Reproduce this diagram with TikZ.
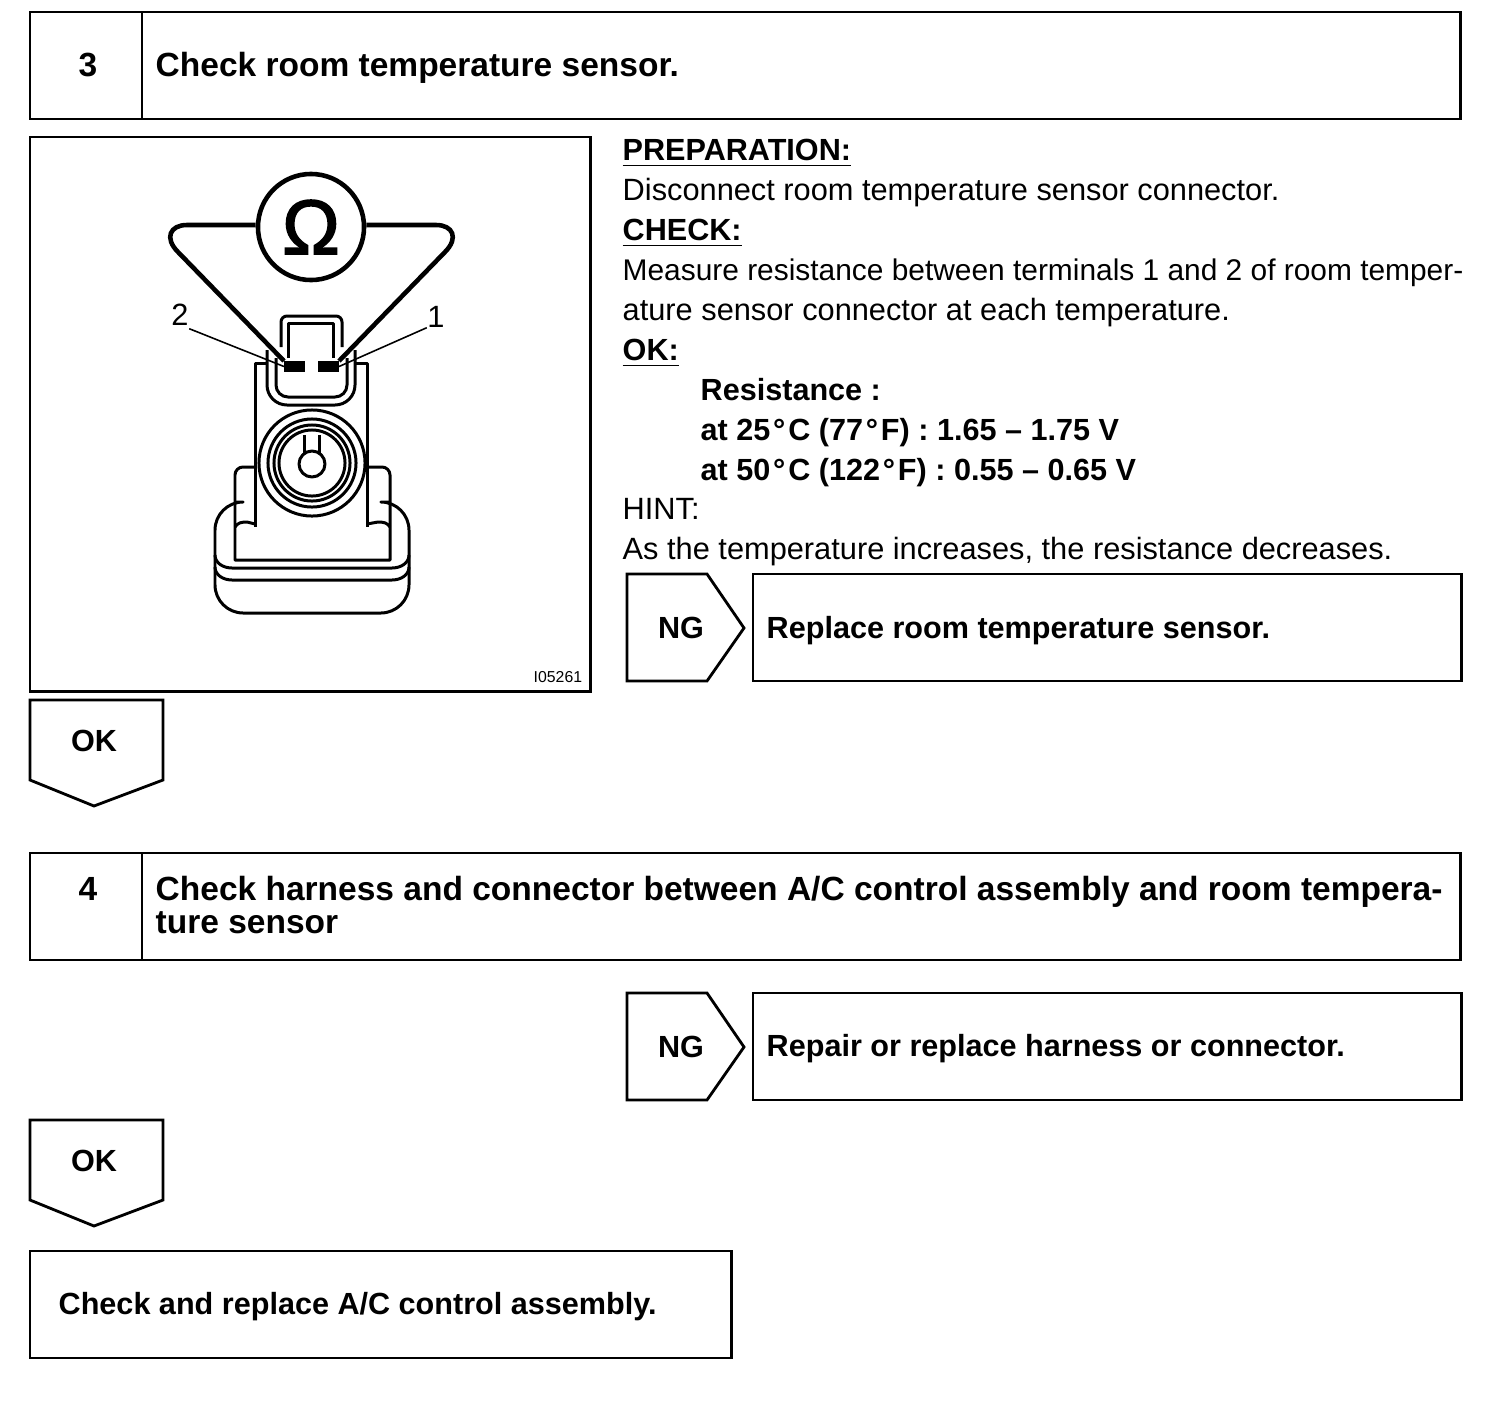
\documentclass[tikz,border=0pt]{standalone}
\usepackage{fontspec}
\setmainfont{Liberation Sans}
\newfontfamily\ohmfont[FakeBold=2]{Liberation Sans}
\usetikzlibrary{positioning}
\begin{document}
\begin{tikzpicture}[x=0.01cm, y=-0.01cm,
  framebox/.style={draw, line width=0.8pt, anchor=north west, inner sep=0pt, outer sep=0pt},
  textline/.style={anchor=base west, inner sep=0pt, font=\fontsize{8.75}{12}\selectfont},
  boldline/.style={textline, font=\fontsize{8.7}{12}\selectfont\bfseries},
  titleline/.style={textline, font=\fontsize{9.53}{12}\selectfont\bfseries},
  tagtext/.style={anchor=base, inner sep=0pt, font=\fontsize{8.7}{12}\selectfont\bfseries},
  tagline/.style={line width=0.8pt, line join=miter},
  part/.style={line width=0.85pt, line join=round},
  wire/.style={line width=1.3pt},
  lead/.style={line width=0.45pt},
  termbox/.style={fill=black, inner sep=0pt, outer sep=0pt, minimum width=0.21cm, minimum height=0.11cm},
  ng/.pic={\draw[tagline] (0,0) -- (80,0) -- (117,54) -- (80,107) -- (0,107) -- cycle;
           \node[tagtext] at (54,64) {NG};},
  ok/.pic={\draw[tagline] (0,0) -- (133,0) -- (133,80) -- (64,106) -- (0,80) -- cycle;
           \node[tagtext] at (64,51) {OK};}
]
\useasboundingbox (0,0) rectangle (1504,1418);

% step 3
\node[framebox, minimum width=14.3cm, minimum height=1.07cm] (headthree) at (30,12) {};
\draw[line width=0.8pt] (142,12) -- (142,119);
\node[titleline, anchor=base] (numthree) at (88,76) {3};
\node[titleline] (titlethree) at (155,76) {Check room temperature sensor.};

% figure
\node[framebox, minimum width=5.6cm, minimum height=5.54cm] (figbox) at (30,137) {};
\node[draw, circle, line width=1.3pt, minimum size=1.06cm, inner sep=0pt,
      font=\fontsize{22}{22}\ohmfont] (ohm) at (311,227) {Ω};
\node[termbox, anchor=north west] (termtwo) at (284,361) {};
\node[termbox, anchor=north west] (termone) at (318,361) {};
\draw[wire] (ohm.west |- 0,225) -- (187,225) .. controls (170,225) and (164,238) .. (178,252) -- (termtwo.north west);
\draw[wire] (ohm.east |- 0,225) -- (436,225) .. controls (453,225) and (459,238) .. (445,252) -- (termone.north east);
\draw[part] (281,347) -- (281,322) to[out=90,in=180] (287,316) -- (336,316) to[out=0,in=90] (342,322) -- (342,347);
\draw[part] (288,358) -- (288,323) -- (333,323) -- (333,358);
\draw[part] (267,363) -- (255,363) -- (255,527);
\draw[part] (355,363) -- (367,363) -- (367,527);
\draw[part] (267,350) -- (267,385) to[out=270,in=180] (287,405) -- (335,405) to[out=0,in=270] (355,385) -- (355,350);
\draw[part] (276,358) -- (276,385) to[out=270,in=180] (288,397) -- (335,397) to[out=0,in=270] (347,385) -- (347,358);
\draw[part] (255,467) -- (243,467) to[out=180,in=90] (235,475) -- (235,560) -- (390,560) -- (390,475) to[out=90,in=0] (382,467) -- (367,467);
\draw[part, rounded corners=8pt] (235,502) -- (215,502) -- (215,613) -- (409,613) -- (409,502) -- (390,502);
\draw[part] (215,555) to[out=270,in=180] (232,568) -- (392,568) to[out=0,in=270] (409,555);
\draw[part] (215,567) to[out=270,in=180] (232,580) -- (392,580) to[out=0,in=270] (409,567);
\draw[part] (235,527) to[out=60,in=180] (247,522) -- (255,524);
\draw[part] (390,527) to[out=120,in=0] (378,522) -- (367,524);
\node[draw, circle, part, fill=white, minimum size=1.06cm, inner sep=0pt] (bodyring) at (312,463) {};
\foreach \ringsize in {0.88,0.76,0.66}
  \node[draw, circle, part, minimum size=\ringsize cm, inner sep=0pt] at (312,463) {};
\draw[part] (304,435) -- (304,453);
\draw[part] (319,435) -- (319,453);
\node[draw, circle, part, fill=white, minimum size=0.26cm, inner sep=0pt] (keyhole) at (312,464) {};
\node[textline, anchor=base] (labeltwo) at (180,325) {2};
\node[textline, anchor=base] (labelone) at (436,327) {1};
\draw[lead] (labeltwo.south east) ++(0,3) -- (termtwo.west);
\draw[lead] (labelone.south west) -- (termone.east);
\node[textline, font=\fontsize{4.5}{5}\selectfont] (figcode) at (533,682) {I05261};

% check text
\node[boldline] (prep) at (622,160) {\underline{PREPARATION:}};
\node[textline] (prepline) at (622,200) {Disconnect room temperature sensor connector.};
\node[boldline] (check) at (622,240) {\underline{CHECK:}};
\node[textline, font=\fontsize{8.5}{12}\selectfont] (checkone) at (622,280) {Measure resistance between terminals 1 and 2 of room temper-};
\node[textline] (checktwo) at (622,320) {ature sensor connector at each temperature.};
\node[boldline] (okhead) at (622,360) {\underline{OK:}};
\node[boldline] (resist) at (700,400) {Resistance :};
\node[boldline] (resone) at (700,440) {at 25\kern0.8pt°\kern0.8pt C (77\kern0.8pt°\kern0.8pt F) : 1.65 – 1.75 V};
\node[boldline] (restwo) at (700,480) {at 50\kern0.8pt°\kern0.8pt C (122\kern0.8pt°\kern0.8pt F) : 0.55 – 0.65 V};
\node[textline] (hint) at (622,519) {HINT:};
\node[textline] (hintline) at (622,559) {As the temperature increases, the resistance decreases.};

\pic at (627,574) {ng};
\node[framebox, minimum width=7.08cm, minimum height=1.07cm] (replacebox) at (753,574) {};
\node[boldline] (replace) at (766,638) {Replace room temperature sensor.};
\pic at (30,700) {ok};

% step 4
\node[framebox, minimum width=14.3cm, minimum height=1.07cm] (headfour) at (30,853) {};
\draw[line width=0.8pt] (142,853) -- (142,960);
\node[titleline, anchor=base] (numfour) at (88,900) {4};
\node[titleline] (titlefour) at (155,900) {Check harness and connector between A/C control assembly and room tempera-};
\node[titleline] (titlefourb) at (155,933) {ture sensor};

\pic at (627,993) {ng};
\node[framebox, minimum width=7.08cm, minimum height=1.07cm] (repairbox) at (753,993) {};
\node[boldline] (repair) at (766,1056) {Repair or replace harness or connector.};
\pic at (30,1120) {ok};

\node[framebox, minimum width=7.01cm, minimum height=1.07cm] (lastbox) at (30,1251) {};
\node[boldline] (last) at (58,1314) {Check and replace A/C control assembly.};
\end{tikzpicture}
\end{document}
